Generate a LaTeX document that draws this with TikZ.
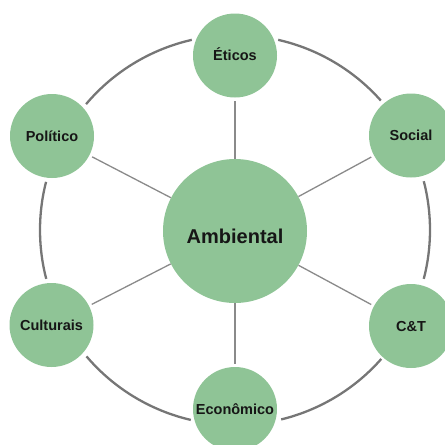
\documentclass[tikz,border=0pt]{standalone}
\usepackage{fontspec}
\setmainfont{Liberation Sans}
\usetikzlibrary{calc}
\definecolor{leaf}{RGB}{143,196,150}
\definecolor{ringgrey}{RGB}{118,118,118}
\definecolor{spokegrey}{RGB}{138,138,138}
\definecolor{ink}{RGB}{22,22,22}
\begin{document}
\begin{tikzpicture}[x=1pt,y=1pt,
  topic/.style={circle, fill=leaf, minimum size=84pt, inner sep=0pt,
    text=ink, font=\bfseries\fontsize{14.5}{16}\selectfont,
    text height=10.5pt, text depth=0pt},
  core/.style={topic, minimum size=144pt,
    font=\bfseries\fontsize{20}{24}\selectfont,
    text height=24pt, text depth=0pt},
  spoke/.style={draw=spokegrey, line width=1.3pt, shorten >=3pt},
  rim/.style={draw=ringgrey, line width=2.3pt}]
\useasboundingbox (0,0) rectangle (445,-445);
\clip (0,0) rectangle (445,-445);

% centre of the outer ring
\coordinate (hub) at (235,-230);

% outer ring, broken where it passes the topic circles
\foreach \a/\b in {-14.5/14.5, 41.6/77.2, 102.8/139.8, 165.7/194.5, 220.4/256.9, 283.7/318.6}
  \draw[rim] ($(hub)+(\a:195)$) arc[start angle=\a, end angle=\b, radius=195];

% topic circles
\node[core]  (amb)  at (235,-231)   {Ambiental};
\node[topic] (etic) at (235,-55.5)  {Éticos};
\node[topic] (soc)  at (411,-135.5) {Social};
\node[topic] (ct)   at (411,-326)   {C\&T};
\node[topic] (econ) at (235,-409)   {Econômico};
\node[topic] (cult) at (51.5,-325)  {Culturais};
\node[topic] (pol)  at (52,-136)    {Político};

% spokes from the centre to each topic
\foreach \t in {etic,soc,ct,econ,cult,pol}
  \draw[spoke] (amb) -- (\t);
\end{tikzpicture}
\end{document}
